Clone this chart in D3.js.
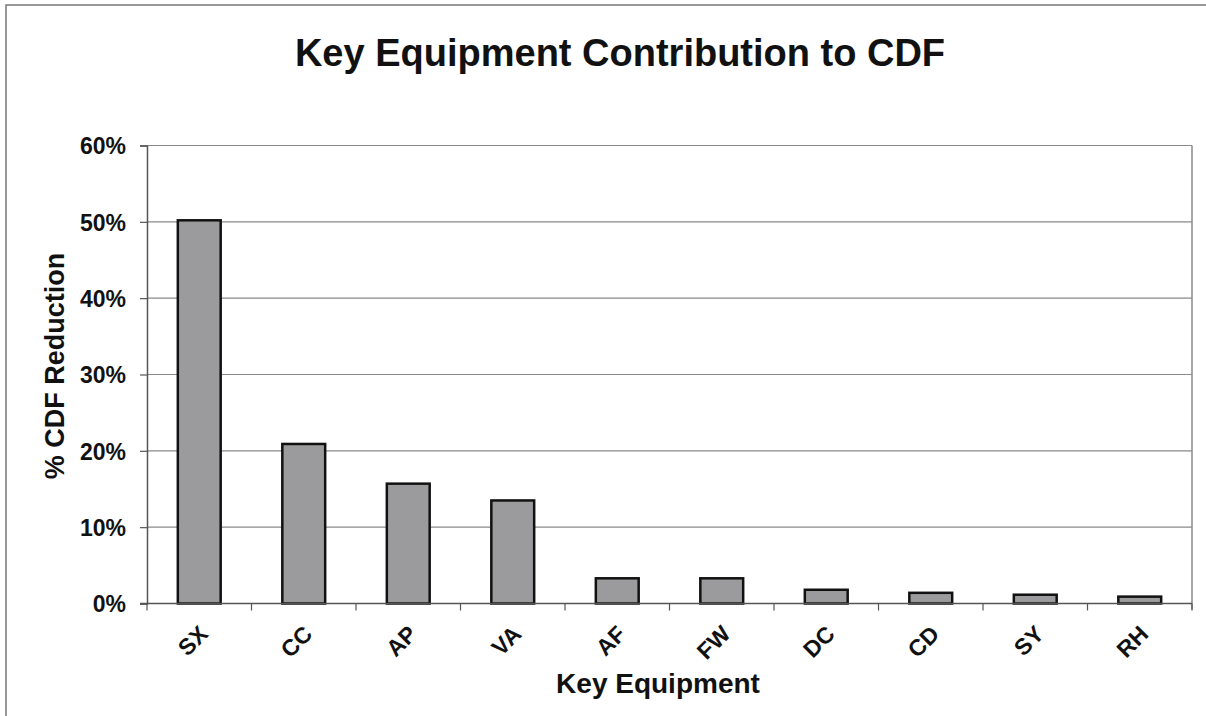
<!DOCTYPE html>
<html>
<head>
<meta charset="utf-8">
<script src="https://cdn.jsdelivr.net/npm/d3@7"></script>
<style>
  html, body { margin: 0; padding: 0; background: #fff; }
  svg { display: block; }
  text { font-family: "Liberation Sans", Arial, sans-serif; font-weight: bold; fill: #111; }
</style>
</head>
<body>
<svg id="chart" width="1206" height="716"></svg>
<script>
// Key equipment categories and their share of CDF reduction (%)
const categories = ["SX", "CC", "AP", "VA", "AF", "FW", "DC", "CD", "SY", "RH"];
const reduction = [50.2, 20.9, 15.7, 13.5, 3.3, 3.3, 1.8, 1.4, 1.15, 0.9];
const yTicks = [0, 10, 20, 30, 40, 50, 60];

const titleText = "Key Equipment Contribution to CDF";
const xTitle = "Key Equipment";
const yTitle = "% CDF Reduction";

const svg = d3.select("#chart");
const W = 1206, H = 716;
const plot = { left: 147, right: 1192, top: 145.5, bottom: 603.5 };

// outer frame of the chart
svg.append("rect")
  .attr("x", 6).attr("y", 5).attr("width", W + 20).attr("height", H + 20)
  .attr("fill", "#fff").attr("stroke", "#777").attr("stroke-width", 1.5);

const x = d3.scaleBand().domain(categories).range([plot.left, plot.right]).paddingInner(0.59).paddingOuter(0.295);
const band = d3.scaleBand().domain(categories).range([plot.left, plot.right]);
const y = d3.scaleLinear().domain([0, 60]).range([plot.bottom, plot.top]);

// horizontal gridlines
svg.append("g")
  .selectAll("line").data(yTicks.filter(d => d > 0)).join("line")
  .attr("x1", plot.left).attr("x2", plot.right)
  .attr("y1", d => y(d)).attr("y2", d => y(d))
  .attr("stroke", "#8a8a8a").attr("stroke-width", 1.2);

// right edge of plot area
svg.append("line")
  .attr("x1", plot.right).attr("x2", plot.right)
  .attr("y1", plot.top).attr("y2", plot.bottom + 6)
  .attr("stroke", "#8a8a8a").attr("stroke-width", 1.5);

// bars
svg.append("g")
  .selectAll("rect").data(categories).join("rect")
  .attr("x", d => x(d))
  .attr("width", x.bandwidth())
  .attr("y", (d, i) => y(reduction[i]))
  .attr("height", (d, i) => y(0) - y(reduction[i]))
  .attr("fill", "#9b9b9d")
  .attr("stroke", "#111")
  .attr("stroke-width", 2.5);

// y axis
const yAxis = svg.append("g")
  .attr("transform", `translate(${plot.left},0)`)
  .call(d3.axisLeft(y).tickValues(yTicks).tickFormat(d => d + "%").tickSize(7).tickPadding(14));
yAxis.select(".domain").attr("stroke", "#555").attr("stroke-width", 1.5);
yAxis.selectAll(".tick line").attr("stroke", "#555").attr("stroke-width", 1.2);
yAxis.selectAll(".tick text")
  .attr("font-family", "Liberation Sans, Arial, sans-serif")
  .attr("font-weight", "bold").attr("font-size", 23).attr("fill", "#111")
  .attr("dy", "0.36em");

// x axis with ticks at category boundaries
const xAxisG = svg.append("g").attr("transform", `translate(0,${plot.bottom})`);
xAxisG.append("line")
  .attr("x1", plot.left - 7).attr("x2", plot.right)
  .attr("stroke", "#555").attr("stroke-width", 1.5);
xAxisG.selectAll("line.tk").data(categories.concat(["_end"])).join("line")
  .attr("class", "tk")
  .attr("x1", (d, i) => plot.left + i * band.bandwidth())
  .attr("x2", (d, i) => plot.left + i * band.bandwidth())
  .attr("y1", 0).attr("y2", 7)
  .attr("stroke", "#555").attr("stroke-width", 1.2);
xAxisG.selectAll("text").data(categories).join("text")
  .attr("transform", d => `translate(${band(d) + band.bandwidth() / 2 + 10},${32}) rotate(-45)`)
  .attr("text-anchor", "end")
  .attr("font-size", 23)
  .text(d => d);

// titles
svg.append("text")
  .attr("x", 620).attr("y", 66)
  .attr("text-anchor", "middle")
  .attr("font-size", 38)
  .text(titleText);

svg.append("text")
  .attr("x", 658).attr("y", 693)
  .attr("text-anchor", "middle")
  .attr("font-size", 28)
  .text(xTitle);

svg.append("text")
  .attr("transform", "translate(64,366) rotate(-90)")
  .attr("text-anchor", "middle")
  .attr("font-size", 27)
  .text(yTitle);
</script>
</body>
</html>
